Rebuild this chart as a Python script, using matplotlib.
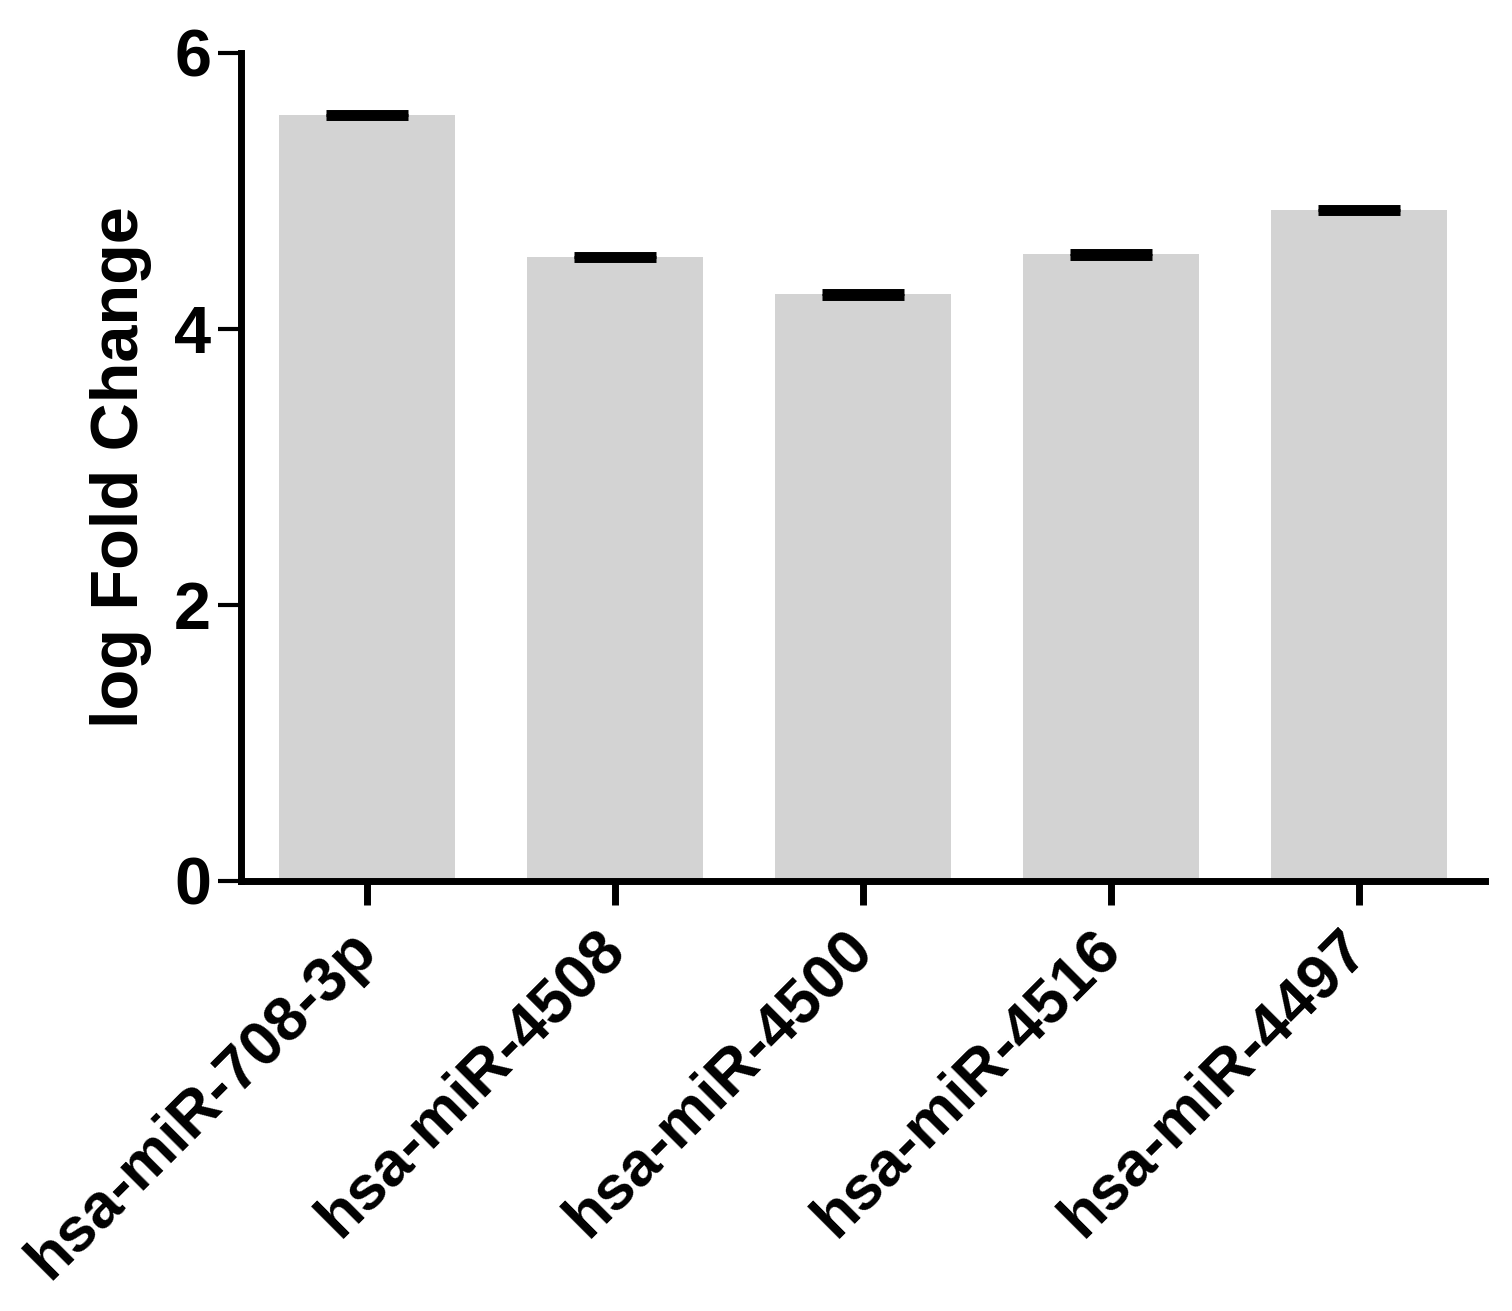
import matplotlib
matplotlib.use("Agg")
import matplotlib.pyplot as plt
import numpy as np

plt.rcParams['font.family'] = ['Liberation Sans', 'DejaVu Sans']
plt.rcParams['font.weight'] = 'bold'

# data
mirnas = ["hsa-miR-708-3p", "hsa-miR-4508", "hsa-miR-4500", "hsa-miR-4516", "hsa-miR-4497"]
log_fc = [5.55, 4.52, 4.25, 4.54, 4.86]
sem = [0.015, 0.015, 0.015, 0.015, 0.015]
y_ticks = [0, 2, 4, 6]

fig = plt.figure(figsize=(15.12, 13.11), dpi=100)
ax = fig.add_axes([0.1594, 0.328, 0.8228, 0.6316])

x = np.arange(len(mirnas))
ax.bar(x, log_fc, width=0.71, color='#d3d3d3', zorder=1)
ax.errorbar(x, log_fc, yerr=sem, fmt='none', ecolor='black',
            elinewidth=0, capsize=29.5, capthick=5, zorder=3)

ax.set_xlim(-0.51, len(mirnas) - 0.49)
ax.set_ylim(0, 6)
ax.set_yticks(y_ticks)
ax.set_xticks(x)
ax.set_xticklabels(mirnas, rotation=45, ha='right', va='center',
                   rotation_mode='anchor', fontsize=45, fontweight='bold')
ax.set_yticklabels([str(t) for t in y_ticks], fontsize=48, fontweight='bold')
ax.set_ylabel("log Fold Change", fontsize=48, fontweight='bold', labelpad=16)

for s in ['top', 'right']:
    ax.spines[s].set_visible(False)
for s in ['left', 'bottom']:
    ax.spines[s].set_linewidth(5)
    ax.spines[s].set_capstyle('projecting')

ax.tick_params(axis='y', direction='out', length=16.5, width=3, pad=5)
ax.tick_params(axis='x', direction='out', length=17, width=5, pad=25)

fig.savefig("out.png", dpi=100)
